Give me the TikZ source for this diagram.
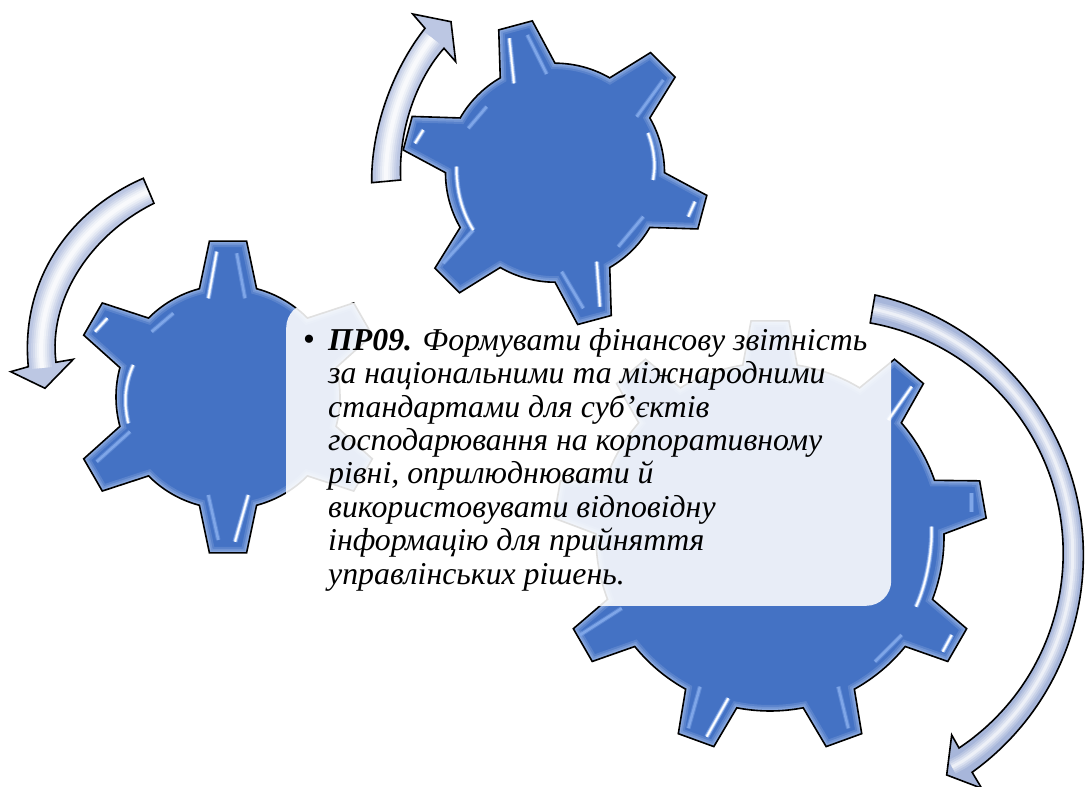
\documentclass[tikz,border=0pt]{standalone}
\usepackage{fontspec}
\setmainfont{Liberation Serif}
\definecolor{gearblue}{HTML}{4472C4}
\definecolor{glowblue}{HTML}{A9C0EA}
\definecolor{hlblue}{HTML}{7FA6E8}
\definecolor{hlpale}{HTML}{C5D8F6}
\definecolor{arrowedge}{HTML}{BCC7E3}
\definecolor{arrowdeep}{HTML}{A7B6DA}
\tikzset{
  gearline/.style={draw=black,line width=1.6pt,line join=miter},
  arrowline/.style={draw=black,line width=1.6pt,line join=miter},
  pixel/.style={y=-1pt,shift={(0pt,787pt)}},
}
% Rbase Rtip start step count halfbase halftip
\newcommand\gearshape[7]{%
  (#3+#6:#1)
  \foreach \i in {1,...,#5} {
    -- (#3-\i*#4+#4+#7:#2) -- (#3-\i*#4+#4-#7:#2) -- (#3-\i*#4+#4-#6:#1)
    arc[start angle=#3-\i*#4+#4-#6,delta angle=-#4+2*#6,radius=#1]
  } -- cycle}
\newcommand\drawgear[9]{%
  \begin{scope}[shift={(#1,#2)}]
    \fill[gearblue] \gearshape{#3}{#4}{#5}{#6}{#7}{#8}{#9};
    \begin{scope}
      \clip \gearshape{#3}{#4}{#5}{#6}{#7}{#8}{#9};
      \draw[glowblue,opacity=.22,line width=12pt] \gearshape{#3}{#4}{#5}{#6}{#7}{#8}{#9};
      \draw[glowblue,opacity=.3,line width=8pt] \gearshape{#3}{#4}{#5}{#6}{#7}{#8}{#9};
      \draw[glowblue,opacity=.4,line width=4.5pt] \gearshape{#3}{#4}{#5}{#6}{#7}{#8}{#9};
    \end{scope}
    \draw[gearline] \gearshape{#3}{#4}{#5}{#6}{#7}{#8}{#9};
  \end{scope}}
\newcommand\hlw[1]{\draw[hlblue,opacity=.75,line width=5pt,line cap=butt] #1; \draw[hlpale,line width=3pt,line cap=butt] #1; \draw[white,line width=1.5pt,line cap=butt] #1;}
\newcommand\hlb[1]{\draw[hlblue,opacity=.45,line width=4.5pt,line cap=butt] #1; \draw[hlblue,line width=2.5pt,line cap=butt] #1;}
\newcommand\paintarrow[4]{%
  \begin{scope}
    \clip #1;
    \fill[#3] #1;
    \foreach \w/\o in {#4} {
      \draw[white,opacity=\o/100,line width=\w pt,line cap=butt] #2;
    }
  \end{scope}
  \draw[arrowline] #1;}
\begin{document}
\begin{tikzpicture}[x=1pt,y=1pt]
\useasboundingbox (0,0) rectangle (1085,787);
\clip (0,0) rectangle (1085,787);
\fill[white] (0,0) rectangle (1085,787);

% left gear
\drawgear{228}{390}{112}{157}{90}{60}{6}{14.8}{6.8}
\begin{scope}[pixel]
  \hlw{(216.7,251.7) -- (208.3,298.3)}
  \hlb{(236.7,253.3) -- (245,298.3)}
  \hlw{(107.3,318.3) -- (95,331.7)}
  \hlb{(151.7,331.7) -- (173.3,313.3)}
  \hlw{(133.3,365) .. controls (124,385) and (124,405) .. (128.3,423.3)}
  \hlb{(130,431.7) -- (96.7,461.7)}
  \hlw{(248.3,495) -- (235,541.7)}
  \hlb{(208.3,495) -- (218.3,540)}
\end{scope}

% big gear
\drawgear{770}{250}{174}{217}{90}{40}{9}{9}{5}
\begin{scope}[pixel]
  \hlw{(911.7,386.7) -- (888.3,420)}
  \hlb{(971.7,493.3) -- (971.7,511.7)}
  \hlw{(931.7,526.7) .. controls (932,555) and (926,585) .. (916,606.7)}
  \hlw{(951.7,635) -- (942.7,651.7)}
  \hlb{(901.7,635) -- (875,661.7)}
  \hlb{(838.3,686.7) -- (848.3,728.3)}
  \hlw{(728.3,698.3) -- (706.7,736.7)}
  \hlb{(700,686.7) -- (688.3,728.3)}
  \hlb{(621.7,608.3) -- (580,635)}
\end{scope}

% translucent text panel
\node[name=panel,draw=none,fill=white,fill opacity=.88,rounded corners=25pt,
      minimum width=605pt,minimum height=303pt,inner sep=0pt,anchor=south west]
      at (286,181) {};

% top gear
\drawgear{555}{614.3}{109.5}{153.5}{105}{60}{6}{15}{6.5}
\begin{scope}[pixel]
  \hlw{(509.3,38.3) -- (514,83.3)}
  \hlb{(527.3,35) -- (546.7,74)}
  \hlb{(663.3,80) -- (636.7,116.7)}
  \hlw{(648,133) .. controls (654,148) and (656,165) .. (653,180)}
  \hlw{(688.3,216.7) -- (695,201.7)}
  \hlb{(643.3,216.7) -- (618.3,246.7)}
  \hlw{(596.7,261.7) -- (600,306.7)}
  \hlb{(561.7,271.7) -- (583.3,308.3)}
  \hlb{(443.3,263.3) -- (473.3,230)}
  \hlw{(456.7,166.7) .. controls (456,190) and (462,212) .. (473.3,230)}
  \hlw{(423.3,130) -- (415,143.3)}
  \hlb{(468.3,128.3) -- (486.7,106.7)}
\end{scope}

% arrows
\begin{scope}[pixel]
  \paintarrow{(371.7,182.7) .. controls (371,130) and (392,70) .. (425,28.3)
     -- (412.7,14) -- (451,21.7) -- (455.7,61.7) -- (444,48.3)
     .. controls (420,75) and (398,125) .. (400.7,180) -- cycle}
    {(386,181) .. controls (385,128) and (405,72) .. (432,38)}{arrowedge}{20/18,16/25,12/35,8/45,4/60}
  \paintarrow{(143.3,178.3) .. controls (70,210) and (20,280) .. (28.3,366.7)
     -- (10.7,371.7) -- (45,388.3) -- (73.3,359.3) -- (56,362.3)
     .. controls (48,300) and (90,235) .. (154,203.3) -- cycle}
    {(149,191) .. controls (80,222) and (34,290) .. (42,368)}{arrowedge}{20/18,16/25,12/35,8/45,4/60}
\end{scope}
\begin{scope}
  \def\bigarrow{(875,492) arc[start angle=77.3,end angle=-54.3,radius=267]
     -- (981.7,-1.3) -- (946.7,12) -- (951.7,52) -- (959,39)
     arc[start angle=-56.3,end angle=79.9,radius=234] -- cycle}
  \paintarrow{\bigarrow}
    {(872.5,478) arc[start angle=78.5,end angle=-56,radius=250] -- (952,20)}{arrowdeep}{15/20,11/25,7/35,3/50}
\end{scope}

% text
\node[name=bullet,anchor=base,inner sep=0pt,font=\fontsize{34}{34}\selectfont] at (309,436) {•};
\node[name=body,anchor=north west,inner sep=0pt,align=left,
      font=\fontsize{31.8}{33.4}\selectfont\itshape] at (328,459)
  {\textbf{ПР09.} Формувати фінансову звітність\\
   за національними та міжнародними\\
   стандартами для суб’єктів\\
   господарювання на корпоративному\\
   рівні, оприлюднювати й\\
   використовувати відповідну\\
   інформацію для прийняття\\
   управлінських рішень.};
\end{tikzpicture}
\end{document}
